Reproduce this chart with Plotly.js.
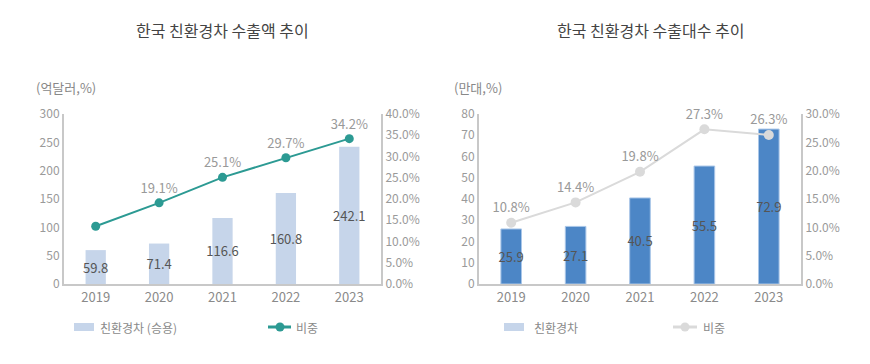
<!DOCTYPE html>
<html><head><meta charset="utf-8">
<script src="https://cdn.plot.ly/plotly-3.0.1.min.js"></script>
<style>html,body{margin:0;padding:0;background:#fff}#c{width:870px;height:364px}</style>
</head><body><div id="c"></div>
<script>
const years = ['2019','2020','2021','2022','2023'];
const exportValue = [59.8, 71.4, 116.6, 160.8, 242.1];
const exportShare = [13.6, 19.1, 25.1, 29.7, 34.2];
const exportShareLabels = ['', '19.1%', '25.1%', '29.7%', '34.2%'];
const exportUnits = [25.9, 27.1, 40.5, 55.5, 72.9];
const unitShare = [10.8, 14.4, 19.8, 27.3, 26.3];
const unitShareLabels = ['10.8%', '14.4%', '19.8%', '27.3%', '26.3%'];
const legendLeft = ['친환경차 (승용)', '비중'];
const legendRight = ['친환경차', '비중'];

const FONT = '"Noto Sans CJK KR", "Noto Sans", sans-serif';
const tickFont = {family: FONT, size: 12, color: '#9a9a9a'};
const axisCol = '#c8c8c8';
const TEAL = '#2c9a93', LIGHTBAR = '#c6d5ea', BLUE = '#4c86c6', GREYLINE = '#dadada';

const traces = [
  {type:'bar', x:years, y:exportValue, xaxis:'x', yaxis:'y', name:legendLeft[0],
   marker:{color:LIGHTBAR}, text:exportValue.map(v=>v.toFixed(1)), textposition:'inside', textangle:0, constraintext:'none',
   insidetextanchor:'middle', textfont:{family:FONT,size:13,color:'#555'}, cliponaxis:false, hoverinfo:'none'},
  {type:'scatter', mode:'lines+markers+text', x:years, y:exportShare, xaxis:'x', yaxis:'y2', name:legendLeft[1],
   line:{color:TEAL, width:2}, marker:{color:TEAL, size:9}, cliponaxis:false,
   text:exportShareLabels, textposition:'top center', textfont:{family:FONT,size:13,color:'#999'}, hoverinfo:'none'},
  {type:'bar', x:years, y:exportUnits, xaxis:'x2', yaxis:'y3', name:legendRight[0],
   marker:{color:BLUE, line:{color:'#a9c6e8', width:1}}, text:exportUnits.map(v=>v.toFixed(1)), textposition:'inside', textangle:0, constraintext:'none',
   insidetextanchor:'middle', textfont:{family:FONT,size:13,color:'#555'}, cliponaxis:false, hoverinfo:'none'},
  {type:'scatter', mode:'lines+markers+text', x:years, y:unitShare, xaxis:'x2', yaxis:'y4', name:legendRight[1],
   line:{color:GREYLINE, width:2}, marker:{color:GREYLINE, size:10}, cliponaxis:false,
   text:unitShareLabels, textposition:'top center', textfont:{family:FONT,size:13,color:'#999'}, hoverinfo:'none'}
];

const W = 870, H = 364;
const px = x => x / W, py = y => 1 - y / H;
const yb = py(284), yt = py(114);
const xAxisCommon = {type:'category', showline:true, linecolor:axisCol, linewidth:2, ticks:'', tickfont:{family:FONT,size:13,color:'#8a8a8a'}, showgrid:false, zeroline:false, fixedrange:true};
const yAxisCommon = {showline:true, linecolor:axisCol, linewidth:2, ticks:'', tickfont:tickFont, showgrid:false, zeroline:false, fixedrange:true};

const legFont = {family:FONT, size:12, color:'#8a8a8a'};
const shapes = [
  {type:'rect', xref:'paper', yref:'paper', x0:px(74), x1:px(94), y0:py(331), y1:py(323), fillcolor:LIGHTBAR, line:{width:0}},
  {type:'line', xref:'paper', yref:'paper', x0:px(268), x1:px(291), y0:py(327), y1:py(327), line:{color:TEAL, width:3}},
  {type:'circle', xref:'paper', yref:'paper', x0:px(275.5), x1:px(284.5), y0:py(331.5), y1:py(322.5), fillcolor:TEAL, line:{width:0}},
  {type:'rect', xref:'paper', yref:'paper', x0:px(504), x1:px(524), y0:py(331), y1:py(323), fillcolor:LIGHTBAR, line:{width:0}},
  {type:'line', xref:'paper', yref:'paper', x0:px(673), x1:px(697), y0:py(327), y1:py(327), line:{color:GREYLINE, width:3}},
  {type:'circle', xref:'paper', yref:'paper', x0:px(680.5), x1:px(689.5), y0:py(331.5), y1:py(322.5), fillcolor:GREYLINE, line:{width:0}}
];

const ann = (text, x, y, xanchor, font) => ({text, x:px(x), y:py(y), xref:'paper', yref:'paper', xanchor, yanchor:'middle', showarrow:false, font});
const layout = {
  width:W, height:H, margin:{l:0,r:0,t:0,b:0}, paper_bgcolor:'#fff', plot_bgcolor:'rgba(0,0,0,0)',
  font:{family:FONT}, bargap:0.68, showlegend:false,
  xaxis: Object.assign({}, xAxisCommon, {domain:[px(64), px(381)], anchor:'y'}),
  yaxis: Object.assign({}, yAxisCommon, {domain:[yb, yt], anchor:'x', range:[0,300], dtick:50}),
  yaxis2: Object.assign({}, yAxisCommon, {overlaying:'y', side:'right', anchor:'x', range:[0,40], dtick:5, tickformat:'.1f', ticksuffix:'%'}),
  xaxis2: Object.assign({}, xAxisCommon, {domain:[px(479), px(801)], anchor:'y3'}),
  yaxis3: Object.assign({}, yAxisCommon, {domain:[yb, yt], anchor:'x2', range:[0,80], dtick:10}),
  yaxis4: Object.assign({}, yAxisCommon, {overlaying:'y3', side:'right', anchor:'x2', range:[0,30], dtick:5, tickformat:'.1f', ticksuffix:'%'}),
  shapes,
  annotations:[
    ann('한국 친환경차 수출액 추이', 222, 30, 'center', {family:FONT,size:16,color:'#444'}),
    ann('한국 친환경차 수출대수 추이', 650, 30, 'center', {family:FONT,size:16,color:'#444'}),
    ann('(억달러,%)', 34, 87, 'left', {family:FONT,size:13,color:'#888'}),
    ann('(만대,%)', 452, 87, 'left', {family:FONT,size:13,color:'#888'}),
    ann(legendLeft[0], 98, 327, 'left', legFont),
    ann(legendLeft[1], 294, 327, 'left', legFont),
    ann(legendRight[0], 532, 327, 'left', legFont),
    ann(legendRight[1], 701, 327, 'left', legFont)
  ]
};
Plotly.newPlot('c', traces, layout, {displayModeBar:false, staticPlot:true});
</script></body></html>
